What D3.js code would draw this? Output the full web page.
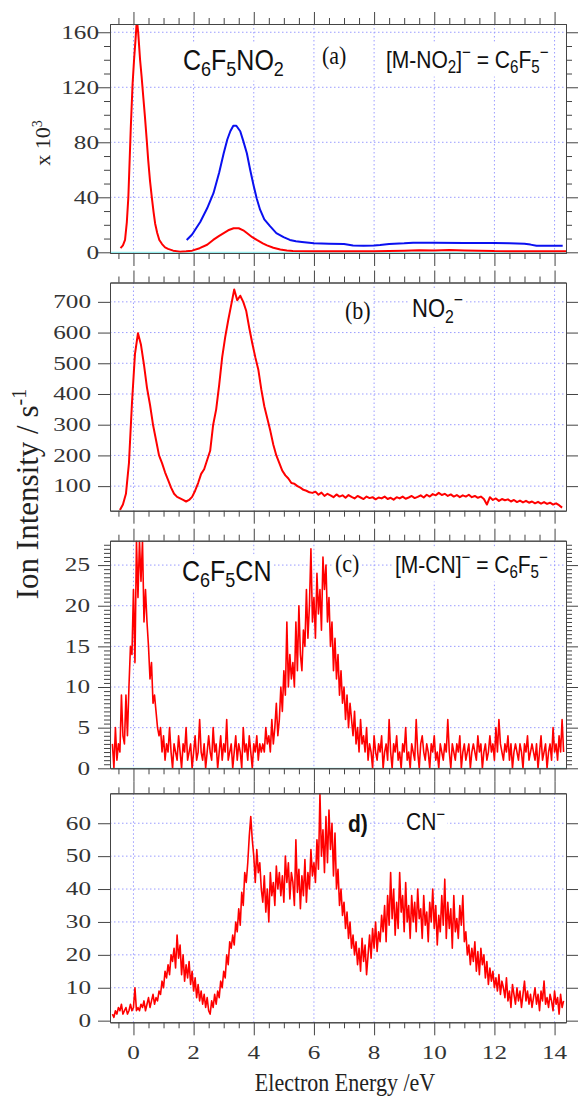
<!DOCTYPE html>
<html>
<head>
<meta charset="utf-8">
<script src="https://cdn.jsdelivr.net/npm/d3@7"></script>
<style>
  body { margin: 0; background: #fff; }
  svg { display: block; }
</style>
</head>
<body>
<svg id="chart"></svg>
<script>
// values (electron energy in eV, ion intensity in s^-1)
const energyMajor = [0, 2, 4, 6, 8, 10, 12, 14];

// (a) C6F5NO2 -> [M-NO2]- = C6F5-, in units of 10^3
const nitroRed = [
  [-0.43, 3], [-0.35, 5], [-0.28, 9], [-0.22, 22], [-0.17, 40], [-0.09, 90], [-0.03, 122],
  [0.02, 140], [0.07, 155], [0.1, 165], [0.13, 166], [0.16, 159], [0.22, 140], [0.27, 128],
  [0.33, 112], [0.38, 99], [0.44, 82], [0.49, 67], [0.55, 52], [0.61, 40], [0.67, 29],
  [0.72, 21], [0.79, 14], [0.86, 9], [0.95, 6], [1.05, 3.6], [1.15, 2.5], [1.32, 1.2],
  [1.55, 0.5], [1.75, 0.8], [1.95, 1.2], [2.2, 3], [2.45, 5.5], [2.65, 9], [2.85, 12],
  [3.0, 14], [3.15, 16], [3.33, 17.5], [3.5, 17.5], [3.65, 16], [3.77, 14], [3.95, 11],
  [4.1, 9], [4.3, 6.5], [4.44, 5], [4.65, 3.3], [4.88, 2], [5.1, 1.4], [5.3, 1], [6, 0.8],
  [7, 0.7], [8, 0.8], [9, 1.2], [9.5, 1.5], [10, 1.3], [10.5, 1.6], [11, 1.3], [11.5, 1.2],
  [12, 0.9], [13, 0.8], [14, 0.8], [14.38, 0.8]
];
const nitroBlue = [
  [1.77, 9], [1.95, 13], [2.1, 18], [2.22, 22], [2.45, 32], [2.66, 43], [2.85, 58], [3.0, 72],
  [3.12, 82], [3.22, 88], [3.32, 92], [3.42, 92], [3.55, 88], [3.65, 81], [3.77, 72], [3.88, 60],
  [3.99, 49], [4.1, 39], [4.21, 31], [4.35, 24], [4.54, 19], [4.75, 14], [4.99, 11], [5.2, 9],
  [5.4, 8], [5.6, 7.5], [6.0, 6.6], [6.5, 6.3], [7.0, 6.0], [7.3, 5.0], [7.65, 4.8], [8.0, 5.0],
  [8.2, 5.3], [8.5, 6.0], [9.0, 6.5], [9.3, 7.0], [10, 7.0], [11, 6.8], [12, 6.8], [12.5, 6.5],
  [13.0, 6.3], [13.2, 5.6], [13.4, 4.8], [14.0, 4.8], [14.27, 4.8]
];

// (b) NO2-, energy grid starts at -0.45 eV, 0.1 eV steps
const no2Start = -0.45, no2Step = 0.1;
const no2Counts = [
  22, 40, 75, 175, 370, 530, 598, 560, 495, 420,
  365, 300, 250, 200, 175, 145, 120, 95, 75, 65,
  60, 55, 50, 55, 65, 85, 110, 140, 155, 185,
  215, 300, 350, 430, 520, 585, 640, 690, 740, 705,
  720, 700, 670, 615, 565, 520, 480, 415, 360, 320,
  280, 235, 200, 175, 150, 135, 125, 110, 108, 100,
  95, 88, 85, 80, 78, 82, 72, 79, 68, 75,
  70, 64, 73, 66, 70, 62, 71, 65, 60, 68,
  63, 58, 66, 61, 64, 57, 63, 60, 66, 58,
  62, 56, 64, 60, 66, 59, 63, 68, 61, 65,
  70, 63, 72, 66, 74, 70, 78, 71, 75, 68,
  73, 66, 71, 64, 70, 66, 72, 64, 68, 62,
  66, 58, 40, 64, 55, 60, 52, 58, 54, 57,
  50, 55, 48, 53, 47, 52, 46, 50, 44, 49,
  43, 48, 42, 46, 40, 44, 38, 30
];

// (c) C6F5CN -> [M-CN]- and (d) CN-, energy grid starts at -0.7 eV, 0.05 eV steps
const cnStart = -0.7, cnStep = 0.05;
const mcnCounts = [
  3, 0, 5, 1, 3, 2, 9, 4, 3, 9, 4, 10, 15, 14, 22, 13, 28, 21, 28, 23,
  28, 18, 22, 18, 15, 11, 13, 8, 9, 7, 5, 4, 5, 2, 4, 1, 3, 2, 5, 2,
  0, 3, 2, 1, 4, 2, 0, 3, 2, 5, 1, 2, 3, 0, 2, 4, 1, 2, 6, 2,
  1, 3, 0, 2, 4, 2, 1, 5, 2, 3, 0, 2, 4, 1, 3, 2, 6, 1, 2, 3,
  0, 2, 4, 1, 3, 2, 0, 5, 2, 3, 1, 4, 2, 0, 3, 2, 4, 1, 3, 2,
  3, 2, 5, 3, 4, 2, 6, 3, 5, 8, 4, 6, 10, 7, 12, 9, 18, 10, 14, 11,
  13, 10, 18, 12, 20, 14, 12, 17, 15, 22, 16, 20, 27, 18, 21, 16, 24, 19, 22, 17,
  26, 22, 25, 18, 21, 15, 18, 12, 16, 11, 14, 9, 12, 8, 10, 6, 9, 5, 8, 6,
  4, 7, 3, 5, 2, 6, 3, 4, 2, 5, 1, 3, 2, 0, 4, 2, 1, 3, 2, 4,
  0, 2, 3, 1, 6, 2, 0, 3, 2, 4, 1, 2, 0, 3, 2, 5, 1, 2, 0, 3,
  2, 1, 6, 2, 0, 3, 4, 2, 1, 3, 2, 0, 3, 2, 4, 1, 2, 0, 3, 2,
  1, 3, 2, 6, 2, 0, 3, 2, 1, 3, 2, 4, 0, 2, 3, 1, 2, 3, 0, 2,
  3, 2, 1, 4, 2, 3, 0, 2, 3, 1, 2, 4, 2, 3, 1, 5, 2, 6, 3, 2,
  1, 3, 2, 4, 1, 3, 0, 2, 3, 2, 1, 3, 2, 0, 3, 2, 4, 1, 2, 3,
  2, 1, 3, 0, 2, 4, 1, 2, 3, 0, 2, 3, 1, 5, 2, 3, 1, 4, 2, 6,
  2
];
const cnCounts = [
  2, 1, 3, 2, 4, 3, 5, 2, 3, 4, 2, 3, 5, 3, 4, 10, 3, 4, 3, 5,
  4, 6, 3, 5, 7, 4, 6, 8, 5, 7, 6, 9, 8, 12, 10, 15, 13, 17, 14, 20,
  18, 22, 16, 26, 19, 23, 14, 20, 12, 17, 13, 18, 11, 15, 9, 13, 7, 11, 6, 9,
  5, 8, 4, 7, 3, 2, 6, 4, 8, 5, 9, 7, 12, 10, 15, 13, 20, 17, 24, 22,
  26, 23, 30, 27, 34, 29, 39, 35, 45, 42, 48, 56, 62, 55, 50, 42, 52, 45, 48, 40,
  36, 44, 33, 40, 30, 45, 38, 42, 35, 47, 40, 45, 38, 44, 36, 50, 42, 48, 37, 45,
  42, 35, 55, 39, 46, 34, 44, 38, 49, 36, 45, 40, 52, 44, 48, 42, 55, 46, 69, 50,
  58, 45, 62, 48, 64, 52, 60, 44, 57, 40, 46, 35, 40, 32, 36, 28, 33, 25, 30, 22,
  26, 20, 24, 17, 22, 15, 25, 18, 23, 14, 20, 26, 19, 28, 22, 30, 21, 27, 24, 32,
  27, 35, 24, 38, 29, 45, 31, 40, 26, 36, 28, 45, 33, 38, 27, 42, 30, 35, 25, 38,
  30, 36, 27, 40, 31, 34, 25, 38, 29, 33, 24, 36, 30, 40, 28, 35, 23, 32, 27, 38,
  29, 43, 25, 36, 28, 34, 22, 38, 27, 31, 25, 35, 29, 38, 24, 27, 20, 23, 17, 22,
  18, 24, 15, 21, 14, 22, 17, 20, 13, 18, 11, 16, 12, 15, 10, 13, 9, 14, 8, 12,
  10, 7, 13, 6, 9, 4, 11, 8, 5, 10, 6, 9, 4, 8, 12, 6, 9, 5, 8, 4,
  7, 10, 5, 8, 3, 9, 6, 12, 5, 7, 4, 8, 6, 3, 9, 5, 7, 2, 8, 4,
  6
];

const onGrid = (start, step, values) => values.map((v, i) => [start + i * step, v]);

const serifFont = "'Liberation Serif', 'Times New Roman', serif";
const sansFont = "'Liberation Sans', Arial, sans-serif";

const width = 579, height = 1097;
const plotLeft = 110, plotRight = 566;

const panels = [
  {
    top: 24, bottom: 253, yDomain: [-0.5, 166], yMajor: [0, 40, 80, 120, 160], yMinorStep: 10,
    labelEnd: 99, zeroLine: true, lineWidth: 2,
    series: [{ data: nitroRed, color: '#ff0000' }, { data: nitroBlue, color: '#0a10f0' }],
    labels: [
      { x: 183, y: 70, size: 25, parts: [['C'], ['6', 'sub'], ['F'], ['5', 'sub'], ['N'], ['O'], ['2', 'sub']] },
      { x: 322, y: 64, size: 22, serif: true, parts: [['(a)']] },
      { x: 386, y: 68, size: 21, parts: [['[M-NO'], ['2', 'sub'], [']'], ['\u2212', 'sup'], [' = C'], ['6', 'sub'], ['F'], ['5', 'sub'], ['\u2212', 'sup']] }
    ]
  },
  {
    top: 282.5, bottom: 510.7, yDomain: [20, 763], yMajor: [100, 200, 300, 400, 500, 600, 700], yMinorStep: null,
    labelEnd: 91, zeroLine: false, lineWidth: 2,
    series: [{ data: onGrid(no2Start, no2Step, no2Counts), color: '#ff0000' }],
    labels: [
      { x: 345, y: 319, size: 22, serif: true, parts: [['(b)']] },
      { x: 412, y: 317, size: 22, parts: [['NO'], ['2', 'sub'], ['\u2212', 'sup']] }
    ]
  },
  {
    top: 540.7, bottom: 768.3, yDomain: [0, 28], yMajor: [0, 5, 10, 15, 20, 25], yMinorStep: 0.5,
    labelEnd: 90, zeroLine: true, lineWidth: 1.6,
    series: [{ data: onGrid(cnStart, cnStep, mcnCounts), color: '#ff0000' }],
    labels: [
      { x: 182, y: 581, size: 25, parts: [['C'], ['6', 'sub'], ['F'], ['5', 'sub'], ['CN']] },
      { x: 335, y: 572, size: 22, serif: true, parts: [['(c)']] },
      { x: 395, y: 573, size: 21, parts: [['[M-CN]'], ['\u2212', 'sup'], [' = C'], ['6', 'sub'], ['F'], ['5', 'sub'], ['\u2212', 'sup']] }
    ]
  },
  {
    top: 793.3, bottom: 1022.3, yDomain: [-0.5, 69.1], yMajor: [0, 10, 20, 30, 40, 50, 60], yMinorStep: null,
    labelEnd: 91, zeroLine: false, lineWidth: 1.6,
    series: [{ data: onGrid(cnStart, cnStep, cnCounts), color: '#ff0000' }],
    labels: [
      { x: 348, y: 832, size: 21, bold: true, parts: [['d)']] },
      { x: 406, y: 830, size: 21, parts: [['CN'], ['\u2212', 'sup']] }
    ]
  }
];

const svg = d3.select('#chart')
  .attr('width', width)
  .attr('height', height);

const x = d3.scaleLinear()
  .domain([-0.78, 14.38])
  .range([plotLeft, plotRight]);

const xMinor = d3.range(-0.5, 14.4, 0.5).filter(v => v % 2 !== 0);

function styleAxis(g) {
  g.selectAll('path, line').attr('stroke', '#444').attr('stroke-width', 1);
}

// annotation with sub/superscripts on an opaque white box, glyphs drawn a little tall like the source
function addLabel(layer, lab) {
  const g = layer.append('g')
    .attr('transform', `translate(${lab.x},${lab.y}) scale(1,1.16)`);
  const text = g.append('text')
    .attr('font-family', lab.serif ? serifFont : sansFont)
    .attr('font-weight', lab.bold ? 'bold' : null)
    .attr('font-size', lab.size)
    .attr('fill', '#111');
  let shift = 0;
  lab.parts.forEach(([t, kind]) => {
    const target = kind === 'sub' ? lab.size * 0.22 : kind === 'sup' ? -lab.size * 0.42 : 0;
    text.append('tspan')
      .attr('dy', target - shift)
      .attr('font-size', kind ? lab.size * 0.72 : lab.size)
      .text(t);
    shift = target;
  });
  const box = text.node().getBBox();
  g.insert('rect', 'text')
    .attr('x', box.x - 2)
    .attr('y', box.y)
    .attr('width', box.width + 4)
    .attr('height', box.height)
    .attr('fill', '#fff');
}

panels.forEach((p, i) => {
  const y = d3.scaleLinear().domain(p.yDomain).range([p.bottom, p.top]);
  const g = svg.append('g').attr('class', 'panel');

  // dotted grid
  g.append('g').selectAll('line.vgrid').data(energyMajor).join('line')
    .attr('x1', d => x(d)).attr('x2', d => x(d))
    .attr('y1', p.top).attr('y2', p.bottom)
    .attr('stroke', '#9a9cff').attr('stroke-width', 1).attr('stroke-dasharray', '1.5,2.5');
  g.append('g').selectAll('line.hgrid').data(p.yMajor.filter(v => y(v) < p.bottom - 2)).join('line')
    .attr('x1', plotLeft).attr('x2', plotRight)
    .attr('y1', d => y(d)).attr('y2', d => y(d))
    .attr('stroke', '#9a9cff').attr('stroke-width', 1).attr('stroke-dasharray', '1.5,2.5');

  if (p.zeroLine) {
    g.append('line')
      .attr('x1', plotLeft).attr('x2', plotRight)
      .attr('y1', y(0)).attr('y2', y(0))
      .attr('stroke', '#7eeaea').attr('stroke-width', 1);
  }

  // data
  const clipId = `clip-${i}`;
  g.append('clipPath').attr('id', clipId)
    .append('rect')
      .attr('x', plotLeft).attr('y', p.top)
      .attr('width', plotRight - plotLeft).attr('height', p.bottom - p.top);

  const line = d3.line().x(d => x(d[0])).y(d => y(d[1]));
  p.series.forEach(s => {
    g.append('path')
      .attr('clip-path', `url(#${clipId})`)
      .attr('d', line(s.data))
      .attr('fill', 'none')
      .attr('stroke', s.color)
      .attr('stroke-width', p.lineWidth)
      .attr('stroke-linejoin', 'round');
  });

  // axes on all four sides
  const yMinor = p.yMinorStep
    ? d3.range(Math.ceil(p.yDomain[0] / p.yMinorStep) * p.yMinorStep, p.yDomain[1], p.yMinorStep)
        .filter(v => !p.yMajor.some(m => Math.abs(m - v) < 1e-6))
    : [];

  g.append('g').attr('transform', `translate(${plotLeft},0)`)
    .call(d3.axisLeft(y).tickValues(p.yMajor).tickSize(12).tickSizeOuter(0).tickFormat(''))
    .call(styleAxis);
  g.append('g').attr('transform', `translate(${plotRight},0)`)
    .call(d3.axisRight(y).tickValues(p.yMajor).tickSize(12).tickSizeOuter(0).tickFormat(''))
    .call(styleAxis);
  if (yMinor.length) {
    g.append('g').attr('transform', `translate(${plotLeft},0)`)
      .call(d3.axisLeft(y).tickValues(yMinor).tickSize(6).tickSizeOuter(0).tickFormat(''))
      .call(styleAxis);
    g.append('g').attr('transform', `translate(${plotRight},0)`)
      .call(d3.axisRight(y).tickValues(yMinor).tickSize(6).tickSizeOuter(0).tickFormat(''))
      .call(styleAxis);
  }
  g.append('g').attr('transform', `translate(0,${p.top})`)
    .call(d3.axisTop(x).tickValues(energyMajor).tickSize(12).tickSizeOuter(0).tickFormat(''))
    .call(styleAxis);
  g.append('g').attr('transform', `translate(0,${p.top})`)
    .call(d3.axisTop(x).tickValues(xMinor).tickSize(6).tickSizeOuter(0).tickFormat(''))
    .call(styleAxis);
  g.append('g').attr('transform', `translate(0,${p.bottom})`)
    .call(d3.axisBottom(x).tickValues(energyMajor).tickSize(13).tickSizeOuter(0).tickFormat(''))
    .call(styleAxis);
  g.append('g').attr('transform', `translate(0,${p.bottom})`)
    .call(d3.axisBottom(x).tickValues(xMinor).tickSize(6).tickSizeOuter(0).tickFormat(''))
    .call(styleAxis);

  // y tick labels, the source font is drawn wide
  g.append('g').selectAll('text').data(p.yMajor).join('text')
    .attr('transform', d => `translate(${p.labelEnd},${y(d)}) scale(1.4,1)`)
    .attr('dy', '0.35em')
    .attr('text-anchor', 'end')
    .attr('font-family', serifFont)
    .attr('font-size', 18)
    .attr('fill', '#333')
    .text(d => d);

  const labelLayer = g.append('g');
  p.labels.forEach(lab => addLabel(labelLayer, lab));
});

// energy labels under the last panel
const lastPanel = panels[panels.length - 1];
svg.append('g').selectAll('text').data(energyMajor).join('text')
  .attr('transform', d => `translate(${x(d)},${lastPanel.bottom + 37}) scale(1.4,1)`)
  .attr('text-anchor', 'middle')
  .attr('font-family', serifFont)
  .attr('font-size', 18)
  .attr('fill', '#333')
  .text(d => d);

svg.append('text')
  .attr('transform', 'translate(345,1091) scale(1,1.1)')
  .attr('text-anchor', 'middle')
  .attr('font-family', serifFont)
  .attr('font-size', 22)
  .attr('fill', '#222')
  .text('Electron Energy /eV');

const yTitle = svg.append('text')
  .attr('transform', 'translate(38,494) rotate(-90)')
  .attr('text-anchor', 'middle')
  .attr('font-family', serifFont)
  .attr('font-size', 31)
  .attr('fill', '#222');
yTitle.append('tspan').text('Ion Intensity / s');
yTitle.append('tspan').attr('dy', -12).attr('font-size', 20).text('-1');

const scaleTitle = svg.append('text')
  .attr('transform', 'translate(50,143) rotate(-90)')
  .attr('text-anchor', 'middle')
  .attr('font-family', serifFont)
  .attr('font-size', 22)
  .attr('fill', '#222');
scaleTitle.append('tspan').text('x 10');
scaleTitle.append('tspan').attr('dy', -8).attr('font-size', 14).text('3');
</script>
</body>
</html>
